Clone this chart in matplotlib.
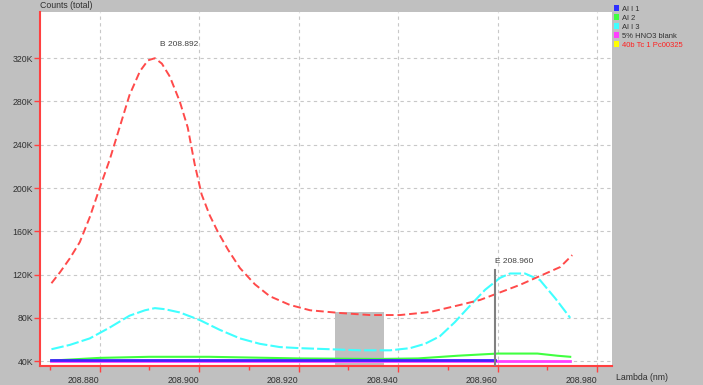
import matplotlib
matplotlib.use("Agg")
import matplotlib.pyplot as plt
from matplotlib.patches import Rectangle, Patch
from matplotlib.ticker import MultipleLocator

plt.rcParams['font.family'] = ['Liberation Sans', 'DejaVu Sans']

# 数据（单位：nm / K counts）
red_x = [208.8703, 208.8720, 208.8740, 208.8760, 208.8780, 208.8800, 208.8820, 208.8840,
         208.8860, 208.8881, 208.8897, 208.8911, 208.8925, 208.8941, 208.8961, 208.8977,
         208.8991, 208.9005, 208.9021, 208.9037, 208.9058, 208.9082, 208.9112, 208.9142,
         208.9182, 208.9223, 208.9283, 208.9343, 208.9404, 208.9464, 208.9525, 208.9565,
         208.9645, 208.9726, 208.9750]
red_y = [112, 122, 135, 150, 173, 200, 226, 256,
         286, 308, 318, 320, 315, 303, 280, 256,
         222, 194, 175, 160, 143, 126, 111, 100,
         92, 87, 84.5, 82.6, 82.6, 85.4, 92, 96.6,
         110.5, 127, 138]

cyan_x = [208.8703, 208.8740, 208.8780, 208.8820, 208.8860, 208.8891, 208.8911, 208.8931,
          208.8961, 208.9001, 208.9041, 208.9082, 208.9122, 208.9162, 208.9202, 208.9263,
          208.9323, 208.9384, 208.9424, 208.9454, 208.9484, 208.9514, 208.9544, 208.9575,
          208.9605, 208.9625, 208.9655, 208.9685, 208.9716, 208.9746]
cyan_y = [51, 55, 61, 71, 82, 87, 89, 88,
          85, 78, 69, 61, 56, 53, 52, 51,
          50, 50, 52, 56, 63, 76, 91, 106,
          117, 121, 121, 115, 98, 80]

green_x = [208.8703, 208.8800, 208.8900, 208.9020, 208.9200, 208.9360, 208.9440, 208.9520,
           208.9600, 208.9680, 208.9720, 208.9746]
green_y = [40.5, 43, 44, 44, 42.5, 42, 42.5, 45, 47, 47, 45, 44]

blue_x = [208.8703, 208.9595]
blue_y = [40.6, 40.6]

magenta_x = [208.8703, 208.9746]
magenta_y = [40.3, 40.3]

legend_labels = ['Al I 1', 'Al 2', 'Al I 3', '5% HNO3 blank', '40b Tc 1 Pc00325']
legend_colors = ['#3030ff', '#40ff40', '#40ffff', '#ff40ff', '#ffff00']

x_ticks = [208.880, 208.900, 208.920, 208.940, 208.960, 208.980]
y_ticks = [40, 80, 120, 160, 200, 240, 280, 320]

peak_label = 'B 208.892'
marker_label = 'E 208.960'
marker_x = 208.9595
marker_top = 124
sel_x0, sel_x1, sel_top = 208.9273, 208.9371, 85.4

fig = plt.figure(figsize=(7.03, 3.85), dpi=100, facecolor='#c0c0c0')
ax = fig.add_axes([40 / 703, 19 / 385, 572 / 703, 354 / 385])
ax.set_facecolor('white')

ax.set_xlim(208.868, 208.983)
ax.set_ylim(35.5, 362.7)

# 选区灰色矩形
ax.add_patch(Rectangle((sel_x0, 35.5), sel_x1 - sel_x0, sel_top - 35.5,
                       facecolor='#c0c0c0', edgecolor='none', zorder=1.5))

ax.plot(magenta_x, magenta_y, color='#ff40ff', lw=2, zorder=3)
ax.plot(blue_x, blue_y, color='#4020ff', lw=2, zorder=4)
ax.plot(green_x, green_y, color='#40ff40', lw=1.5, zorder=3)
ax.plot(cyan_x, cyan_y, color='#40ffff', lw=1.5, ls=(0, (6, 1.5)), zorder=3)
ax.plot(red_x, red_y, color='#ff4a4a', lw=1.4, ls=(0, (4, 2)), zorder=5)

# 标记线
ax.plot([marker_x, marker_x], [35.5, marker_top], color='#808080', lw=1.5, zorder=6)
ax.text(marker_x, 132, marker_label, fontsize=6, color='#404040', ha='left', va='center')
ax.text(208.8921, 333, peak_label, fontsize=6, color='#404040', ha='left', va='center')

# 坐标轴
for s in ['top', 'right']:
    ax.spines[s].set_visible(False)
for s in ['left', 'bottom']:
    ax.spines[s].set_color('#ff4040')
    ax.spines[s].set_linewidth(1.5)

ax.set_xticks(x_ticks)
ax.set_xticklabels([f'{v:.3f}' for v in x_ticks], ha='right')
ax.xaxis.set_minor_locator(MultipleLocator(0.01))
ax.set_yticks(y_ticks)
ax.set_yticklabels([f'{v}K' for v in y_ticks])
ax.tick_params(axis='both', colors='#ff4040', labelcolor='#303030', labelsize=6.3,
               length=4, width=1)
ax.tick_params(axis='x', which='minor', colors='#ff4040', length=3, width=1)
ax.tick_params(axis='y', pad=1)

ax.grid(True, color='#c8c8c8', linestyle=(0, (3, 3)), linewidth=0.8)
ax.set_axisbelow(True)

fig.text(40 / 703, 1 - 6 / 385, 'Counts (total)', fontsize=6.3, color='#303030',
         ha='left', va='center')
fig.text(616 / 703, 1 - 378 / 385, 'Lambda (nm)', fontsize=6.3, color='#303030',
         ha='left', va='center')

# 图例
handles = [Patch(facecolor=c, edgecolor='none') for c in legend_colors]
leg = fig.legend(handles, legend_labels, loc='upper left', bbox_to_anchor=(614 / 703, 1 - 5 / 385),
                 frameon=False, fontsize=5.5, handlelength=0.7, handleheight=0.9,
                 handletextpad=0.4, labelspacing=0.15, borderaxespad=0, borderpad=0)
for i, t in enumerate(leg.get_texts()):
    t.set_color('#ff2020' if i == 4 else '#303030')

fig.savefig('out.png', dpi=100, facecolor=fig.get_facecolor())
